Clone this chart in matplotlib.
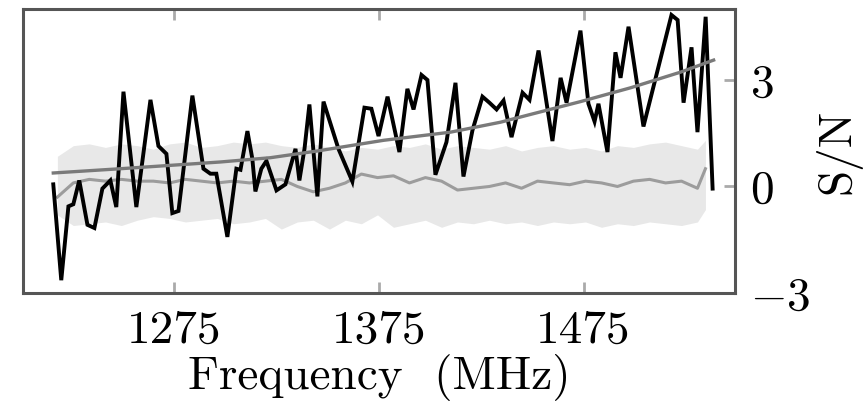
import numpy as np
import matplotlib
matplotlib.use("Agg")
import matplotlib.pyplot as plt

plt.rcParams['font.family'] = 'serif'
plt.rcParams['font.serif'] = ['cmr10', 'DejaVu Serif']
plt.rcParams['mathtext.fontset'] = 'cm'
plt.rcParams['axes.formatter.use_mathtext'] = True

# ---- data ----
sn_freq = [1215.8, 1219.7, 1223.2, 1225.6, 1228.5, 1232.5, 1235.9, 1239.8, 1243.7, 1246.6,
           1250.1, 1256.4, 1263.3, 1267.2, 1271.1, 1274.0, 1277.0, 1283.8, 1289.2, 1292.6,
           1295.5, 1300.9, 1305.3, 1307.3, 1310.7, 1313.1, 1314.6, 1317.5, 1320.0, 1324.9,
           1329.3, 1334.2, 1336.1, 1338.6, 1341.0, 1344.9, 1347.9, 1355.2, 1362.0, 1367.9,
           1371.3, 1374.8, 1379.2, 1385.0, 1388.9, 1391.9, 1395.8, 1398.7, 1402.6, 1408.0,
           1412.4, 1416.3, 1420.7, 1425.6, 1429.0, 1432.5, 1435.9, 1439.8, 1445.2, 1448.6,
           1453.0, 1459.8, 1463.8, 1466.7, 1473.5, 1477.4, 1480.4, 1482.3, 1486.7, 1490.6,
           1493.1, 1497.0, 1504.3, 1518.0, 1521.0, 1523.9, 1527.8, 1530.7, 1534.7, 1538.1]
sn_vals = [0.06, -2.64, -0.56, -0.50, 0.17, -1.08, -1.17, -0.06, 0.17, -0.58,
           2.67, -0.58, 2.44, 1.14, 0.92, -0.75, -0.69, 2.56, 0.50, 0.36,
           0.36, -1.42, 0.50, 0.47, 1.56, 0.78, -0.14, 0.50, 0.72, -0.11,
           0.06, 1.06, 0.17, 1.06, 2.31, -0.28, 2.39, 1.06, 0.14, 2.22,
           2.19, 1.42, 2.53, 0.97, 2.75, 2.17, 3.14, 3.00, 0.33, 1.25,
           2.92, 0.28, 1.58, 2.53, 2.36, 2.17, 2.42, 1.39, 2.64, 2.44,
           3.83, 1.28, 3.06, 2.36, 4.39, 2.33, 1.83, 2.33, 0.97, 3.78,
           3.06, 4.50, 1.69, 4.83, 4.69, 2.36, 3.92, 1.53, 4.78, -0.06]

fit_freq = [1215.8, 1248.6, 1297.5, 1321.9, 1344.9, 1377.2, 1410.0, 1434.4, 1449.1,
            1473.5, 1498.0, 1522.4, 1538.6]
fit_vals = [0.38, 0.50, 0.69, 0.81, 1.00, 1.30, 1.53, 1.81, 2.03, 2.39, 2.78, 3.22, 3.56]

band_freq = [1217.8, 1225.6, 1233.4, 1241.3, 1249.1, 1256.9, 1264.7, 1272.6, 1280.4, 1288.2,
             1296.0, 1303.8, 1311.7, 1319.5, 1327.3, 1335.1, 1342.9, 1350.8, 1358.6, 1366.4,
             1374.3, 1382.1, 1389.9, 1397.7, 1405.6, 1413.4, 1421.2, 1429.0, 1436.9, 1444.7,
             1452.5, 1460.3, 1468.2, 1476.0, 1483.8, 1491.6, 1499.4, 1507.3, 1515.1, 1522.9,
             1530.7, 1534.6]
band_hi = [0.85, 1.15, 1.20, 1.10, 1.20, 1.15, 1.05, 1.20, 1.25, 1.10,
           1.15, 1.25, 1.20, 1.25, 1.15, 1.10, 1.20, 1.10, 1.00, 1.10,
           1.05, 1.15, 1.10, 1.20, 1.05, 1.15, 1.10, 1.05, 1.15, 1.00,
           1.10, 1.15, 1.05, 1.10, 1.00, 1.15, 1.10, 1.20, 1.25, 1.15,
           1.05, 1.30]
band_lo = [-0.80, -1.10, -1.05, -1.00, -1.10, -0.95, -0.85, -0.90, -1.00, -0.95,
           -0.90, -1.05, -1.00, -0.90, -1.20, -1.00, -0.95, -1.20, -0.95, -1.05,
           -0.80, -1.15, -1.05, -0.95, -1.15, -1.00, -1.05, -0.95, -1.05, -1.00,
           -1.10, -1.00, -1.05, -1.00, -1.15, -1.05, -1.10, -1.00, -1.05, -1.10,
           -1.00, -0.65]
band_mean = [-0.30, 0.10, 0.20, 0.15, 0.20, 0.15, 0.15, 0.10, 0.20, 0.15,
             0.10, 0.15, 0.10, 0.15, 0.20, 0.00, -0.15, -0.05, 0.10, 0.35,
             0.25, 0.30, 0.10, 0.25, 0.15, -0.10, -0.05, 0.00, 0.10, -0.05,
             0.15, 0.10, 0.05, 0.15, 0.10, 0.00, 0.15, 0.20, 0.10, 0.15,
             -0.05, 0.50]

x_ticks = [1275, 1375, 1475]
x_ticklabels = ['1275', '1375', '1475']
y_ticks = [-3, 0, 3]
y_ticklabels = ['-3', '0', '3']

fig = plt.figure(figsize=(8.65, 4.04), dpi=100)
ax = fig.add_axes([0.0266, 0.2748, 0.823, 0.703])

ax.fill_between(band_freq, band_lo, band_hi, color='#e8e8e8', lw=0, zorder=1)
ax.plot(band_freq, band_mean, color='#9c9c9c', lw=2.2, zorder=2)
ax.plot(sn_freq, sn_vals, color='black', lw=2.8, zorder=3, solid_joinstyle='miter')
ax.plot(fit_freq, fit_vals, color='#7a7a7a', lw=2.4, zorder=4)

ax.set_xlim(1201, 1549)
ax.set_ylim(-3, 5)

ax.set_xticks(x_ticks)
ax.set_xticklabels(x_ticklabels, fontsize=34)
ax.yaxis.tick_right()
ax.yaxis.set_label_position('right')
ax.set_yticks(y_ticks)
ax.set_yticklabels(['$%s$' % t for t in y_ticklabels], fontsize=34)

ax.tick_params(axis='x', direction='in', length=8, width=2, color='#aaaaaa',
               top=True, bottom=True, pad=12)
ax.tick_params(axis='y', direction='in', length=8, width=2, color='#aaaaaa',
               left=False, right=True, pad=11)

for s in ax.spines.values():
    s.set_color('#555555')
    s.set_linewidth(2.2)

ax.set_xlabel('Frequency  (MHz)', fontsize=34, labelpad=2)
ax.set_ylabel('S/N', fontsize=34, rotation=90, labelpad=3)

fig.savefig('out.png', dpi=100)
